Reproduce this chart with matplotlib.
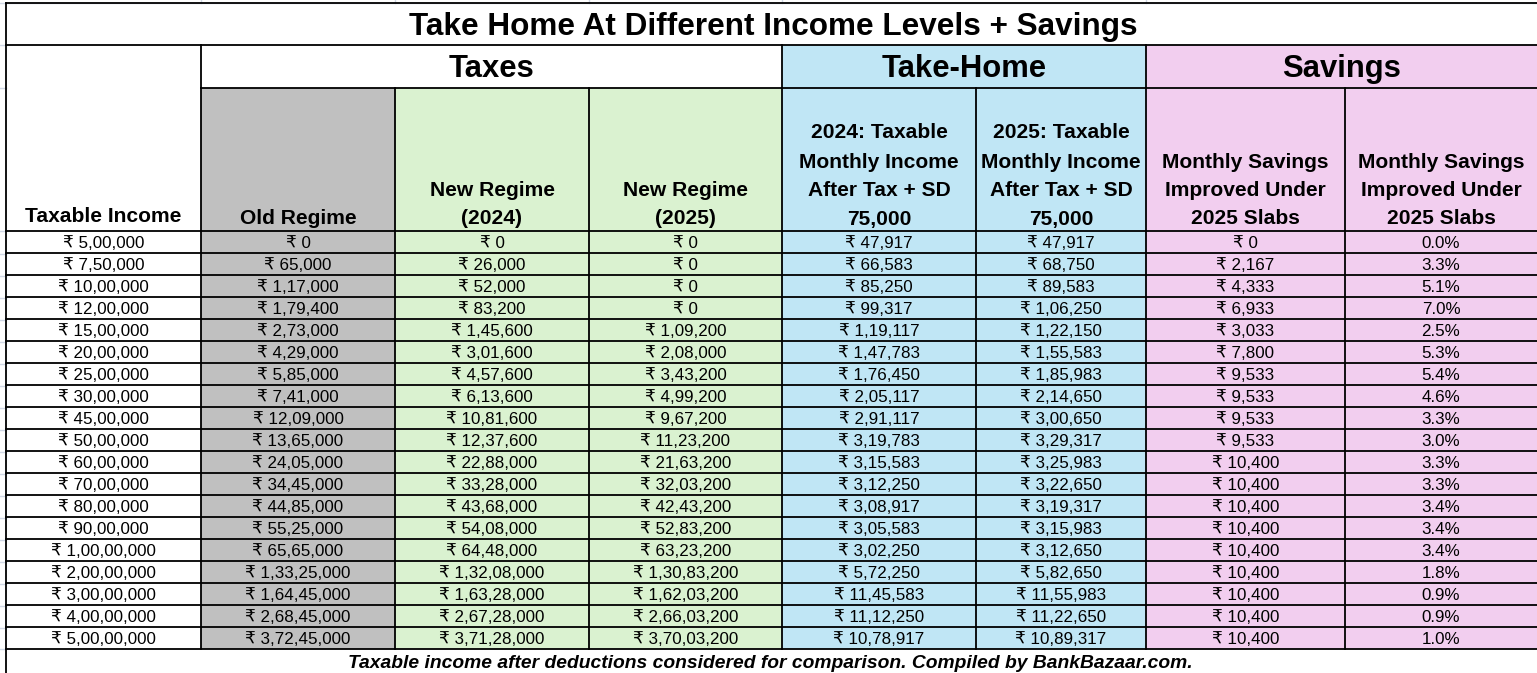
import matplotlib
matplotlib.use("Agg")
import matplotlib.pyplot as plt
from matplotlib.patches import Rectangle

# ---------------- data ----------------
taxable_income = [500000, 750000, 1000000, 1200000, 1500000, 2000000, 2500000, 3000000,
                  4500000, 5000000, 6000000, 7000000, 8000000, 9000000, 10000000,
                  20000000, 30000000, 40000000, 50000000]
old_regime = [0, 65000, 117000, 179400, 273000, 429000, 585000, 741000, 1209000, 1365000,
              2405000, 3445000, 4485000, 5525000, 6565000, 13325000, 16445000, 26845000, 37245000]
new_regime_2024 = [0, 26000, 52000, 83200, 145600, 301600, 457600, 613600, 1081600, 1237600,
                   2288000, 3328000, 4368000, 5408000, 6448000, 13208000, 16328000, 26728000, 37128000]
new_regime_2025 = [0, 0, 0, 0, 109200, 208000, 343200, 499200, 967200, 1123200,
                   2163200, 3203200, 4243200, 5283200, 6323200, 13083200, 16203200, 26603200, 37003200]
takehome_2024 = [47917, 66583, 85250, 99317, 119117, 147783, 176450, 205117, 291117, 319783,
                 315583, 312250, 308917, 305583, 302250, 572250, 1145583, 1112250, 1078917]
takehome_2025 = [47917, 68750, 89583, 106250, 122150, 155583, 185983, 214650, 300650, 329317,
                 325983, 322650, 319317, 315983, 312650, 582650, 1155983, 1122650, 1089317]
monthly_savings = [0, 2167, 4333, 6933, 3033, 7800, 9533, 9533, 9533, 9533,
                   10400, 10400, 10400, 10400, 10400, 10400, 10400, 10400, 10400]
savings_pct = [0.0, 3.3, 5.1, 7.0, 2.5, 5.3, 5.4, 4.6, 3.3, 3.0,
               3.3, 3.3, 3.4, 3.4, 3.4, 1.8, 0.9, 0.9, 1.0]

title = "Take Home At Different Income Levels + Savings"
groups = ["Taxes", "Take-Home", "Savings"]
col_headers = [
    ["Taxable Income"],
    ["Old Regime"],
    ["New Regime", "(2024)"],
    ["New Regime", "(2025)"],
    ["2024: Taxable", "Monthly Income", "After Tax + SD", "75,000"],
    ["2025: Taxable", "Monthly Income", "After Tax + SD", "75,000"],
    ["Monthly Savings", "Improved Under", "2025 Slabs"],
    ["Monthly Savings", "Improved Under", "2025 Slabs"],
]
footer = "Taxable income after deductions considered for comparison. Compiled by BankBazaar.com."

# ---------------- layout ----------------
W, H = 1537, 673
xb = [6, 201, 395, 589, 782, 976, 1146, 1345, 1537]
y_title = (3, 45)
y_group = (45, 88)
y_head = (88, 231)
y_data0 = 231
row_h = 22.0
nrows = len(taxable_income)
y_data1 = y_data0 + nrows * row_h

GRAY = "#C0C0C0"
GREEN = "#DAF2D0"
BLUE = "#C0E6F5"
PINK = "#F2CEEF"
col_colors = ["white", GRAY, GREEN, GREEN, BLUE, BLUE, PINK, PINK]

FAM = ["Liberation Sans", "DejaVu Sans"]
PX = 72 / 100.0  # px -> pt at dpi 100


def inr(n):
    s = str(int(n))
    if len(s) <= 3:
        return s
    last3 = s[-3:]
    rest = s[:-3]
    parts = []
    while len(rest) > 2:
        parts.insert(0, rest[-2:])
        rest = rest[:-2]
    if rest:
        parts.insert(0, rest)
    return ",".join(parts + [last3])


fig = plt.figure(figsize=(W / 100, H / 100), dpi=100)
ax = fig.add_axes([0, 0, 1, 1])
ax.set_xlim(0, W)
ax.set_ylim(H, 0)
ax.axis("off")

# Excel gridlines outside table
for gx in [201, 395, 589, 782, 1146]:
    ax.plot([gx, gx], [0, 3], color="#D0D7E5", lw=1)
ax.plot([0, W], [2.5, 2.5], color="#D0D7E5", lw=1)
for gy in [45, 88, 231, 254, 276, 298, 320, 342, 364, 386, 408, 430, 452, 474, 496, 518, 540, 562, 584, 606, 628, 649]:
    ax.plot([0, 6], [gy, gy], color="#D0D7E5", lw=1)

# backgrounds
ax.add_patch(Rectangle((xb[4], y_group[0]), xb[6] - xb[4], y_group[1] - y_group[0], color=BLUE, lw=0))
ax.add_patch(Rectangle((xb[6], y_group[0]), xb[8] - xb[6], y_group[1] - y_group[0], color=PINK, lw=0))
for i, c in enumerate(col_colors):
    if c != "white":
        ax.add_patch(Rectangle((xb[i], y_head[0]), xb[i + 1] - xb[i], y_data1 - y_head[0], color=c, lw=0))

LW = 1.3
K = "black"
ax.plot([xb[0], W], [y_title[0], y_title[0]], color=K, lw=LW)
ax.plot([xb[0], W], [y_title[1], y_title[1]], color=K, lw=LW)
ax.plot([xb[0], xb[0]], [y_title[0], H], color=K, lw=LW)
for gx in [xb[1], xb[4], xb[6]]:
    ax.plot([gx, gx], [y_group[0], y_group[1]], color=K, lw=LW)
ax.plot([xb[1], W], [y_group[1], y_group[1]], color=K, lw=LW)
for gx in xb[1:-1]:
    ax.plot([gx, gx], [y_head[0], y_data1], color=K, lw=LW)
ax.plot([xb[0], W], [y_head[1], y_head[1]], color=K, lw=LW)
for r in range(1, nrows + 1):
    yy = y_data0 + r * row_h
    ax.plot([xb[0], W], [yy, yy], color=K, lw=LW)

# title
ax.text((xb[0] + W) / 2 + 2, 27.5, title, ha="center", va="center", fontsize=31.5 * PX,
        fontweight="bold", family=FAM)
# groups
gspans = [(xb[1], xb[4]), (xb[4], xb[6]), (xb[6], xb[8])]
for g, (a, b) in zip(groups, gspans):
    ax.text((a + b) / 2, 69, g, ha="center", va="center", fontsize=31 * PX,
            fontweight="bold", family=FAM)
# column headers
line_y = [133, 162, 191, 219]
for i, lines in enumerate(col_headers):
    n = len(lines)
    cx = (xb[i] + xb[i + 1]) / 2
    ys = line_y[4 - n:]
    if i == 0:
        ys = [216]
    for t, yy in zip(lines, ys):
        ax.text(cx, yy, t, ha="center", va="center", fontsize=21 * PX,
                fontweight="bold", family=FAM)

# data
cols = [
    ["\u20b9 " + inr(v) for v in taxable_income],
    ["\u20b9 " + inr(v) for v in old_regime],
    ["\u20b9 " + inr(v) for v in new_regime_2024],
    ["\u20b9 " + inr(v) for v in new_regime_2025],
    ["\u20b9 " + inr(v) for v in takehome_2024],
    ["\u20b9 " + inr(v) for v in takehome_2025],
    ["\u20b9 " + inr(v) for v in monthly_savings],
    [f"{v:.1f}%" for v in savings_pct],
]
for i, col in enumerate(cols):
    cx = (xb[i] + xb[i + 1]) / 2
    for r, t in enumerate(col):
        yy = y_data0 + (r + 0.5) * row_h + 1.5
        ax.text(cx, yy, t, ha="center", va="center", fontsize=17 * PX, family=FAM)

# footer
ax.text(770, 663, footer, ha="center", va="center", fontsize=19.3 * PX,
        fontweight="bold", fontstyle="italic", family=FAM)

fig.savefig("out.png", dpi=100)
